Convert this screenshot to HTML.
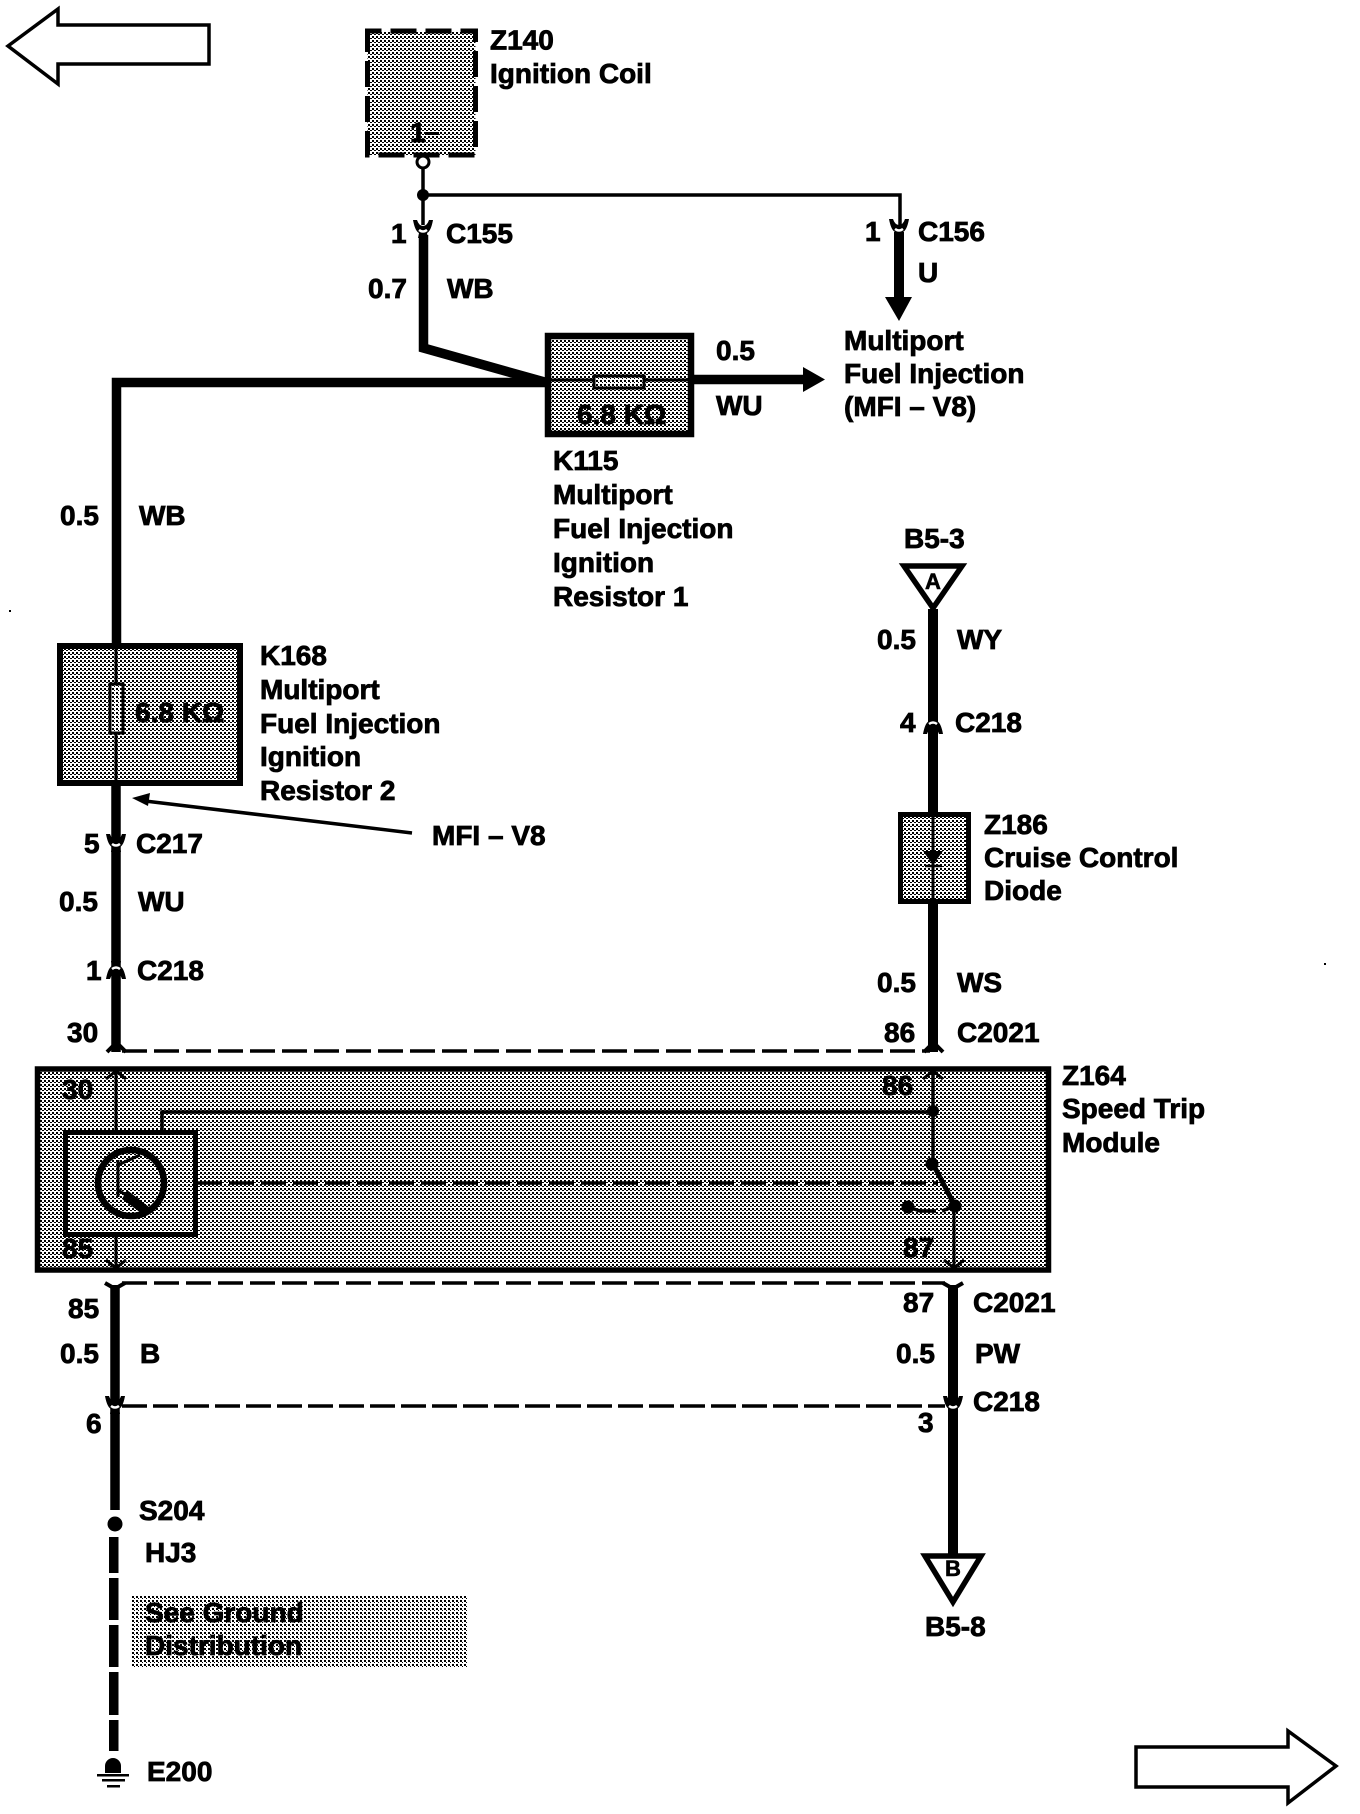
<!DOCTYPE html>
<html>
<head>
<meta charset="utf-8">
<title>Speed Trip Module Wiring Diagram</title>
<style>
html,body{margin:0;padding:0;background:#fff;}
svg{display:block;}
text{font-family:"Liberation Sans",Arial,sans-serif;font-weight:bold;font-size:28px;fill:#000;stroke:#000;stroke-width:.8px;}
text.s{font-size:22px;stroke-width:.6px;}
</style>
</head>
<body>
<svg xmlns="http://www.w3.org/2000/svg" width="1360" height="1814" viewBox="0 0 1360 1814">
<defs>
<pattern id="d" width="4" height="4" patternUnits="userSpaceOnUse">
<rect width="4" height="4" fill="#fff"/>
<rect x="0" y="0" width="2" height="2" fill="#000"/>
<rect x="2" y="2" width="2" height="1" fill="#000"/>
</pattern>
<pattern id="d2" width="4" height="4" patternUnits="userSpaceOnUse">
<rect width="4" height="4" fill="#fff"/>
<rect x="0" y="0" width="2" height="2" fill="#000"/>
<rect x="2" y="2" width="1" height="1" fill="#000"/>
</pattern>
<g id="c">
<path d="M-10,-9 L-6,-9 Q-4,-3 0,-3 Q4,-3 6,-9 L10,-9 Q8,2 4,4 L5,9 L-5,9 L-4,4 Q-8,2 -10,-9Z" fill="#000"/>
<path d="M-4,1 Q0,4 4,1" fill="none" stroke="#fff" stroke-width="2.5"/>
</g>
</defs>
<rect width="1360" height="1814" fill="#fff"/>

<!-- page arrows -->
<polygon points="8,46 58,9 58,25 209,25 209,64 58,64 58,84" fill="#fff" stroke="#000" stroke-width="3.5" stroke-linejoin="miter"/>
<polygon points="1336,1766 1288,1731 1288,1747 1136,1747 1136,1787 1288,1787 1288,1803" fill="#fff" stroke="#000" stroke-width="3.5"/>

<!-- Z140 -->
<rect x="367.5" y="31" width="108" height="124" fill="url(#d)"/>
<rect x="367.5" y="31" width="108" height="124" fill="none" stroke="#000" stroke-width="5" stroke-dasharray="26 9" stroke-dashoffset="12"/>
<text x="410" y="142">1</text><rect x="425" y="132" width="14" height="3" fill="#000"/>
<text x="490" y="49.5">Z140</text>
<text x="490" y="83">Ignition Coil</text>
<line x1="423" y1="167" x2="423" y2="225" stroke="#000" stroke-width="3.5"/>
<circle cx="423" cy="162" r="6" fill="#fff" stroke="#000" stroke-width="3"/>
<circle cx="423" cy="195" r="6" fill="#000"/>
<path d="M423,195 H900 V225" fill="none" stroke="#000" stroke-width="3.5"/>

<!-- C155 wires -->
<path d="M423.5,235 V348 L548,383" fill="none" stroke="#000" stroke-width="9.5" stroke-linejoin="miter"/>
<path d="M548,382.5 H116.5 V650" fill="none" stroke="#000" stroke-width="9.5"/>
<use href="#c" transform="translate(423,229)"/>
<text x="391" y="243">1</text>
<text x="446" y="243">C155</text>
<text x="368" y="298">0.7</text>
<text x="447" y="298">WB</text>

<!-- C156 -->
<line x1="899" y1="232" x2="899" y2="298" stroke="#000" stroke-width="10"/>
<use href="#c" transform="translate(899,228)"/>
<polygon points="885,297 912,297 899,321" fill="#000"/>
<text x="865" y="241">1</text>
<text x="918" y="241">C156</text>
<text x="918" y="282">U</text>

<!-- K115 -->
<rect x="548" y="336" width="143" height="98" fill="url(#d)" stroke="#000" stroke-width="6.5"/>
<line x1="548" y1="380" x2="691" y2="380" stroke="#000" stroke-width="3"/>
<rect x="594" y="376" width="50" height="12" fill="url(#d2)" stroke="#000" stroke-width="3"/>
<text x="577" y="424">6.8 KΩ</text>
<text x="553" y="470">K115</text>
<text x="553" y="504">Multiport</text>
<text x="553" y="538">Fuel Injection</text>
<text x="553" y="572">Ignition</text>
<text x="553" y="606">Resistor 1</text>

<line x1="691" y1="379.5" x2="805" y2="379.5" stroke="#000" stroke-width="9.5"/>
<polygon points="803,367 803,392 825,379.5" fill="#000"/>
<text x="716" y="360">0.5</text>
<text x="716" y="415">WU</text>
<text x="844" y="350">Multiport</text>
<text x="844" y="383">Fuel Injection</text>
<text x="844" y="416">(MFI – V8)</text>

<!-- left wire labels -->
<text x="60" y="525">0.5</text>
<text x="139" y="525">WB</text>

<!-- K168 -->
<rect x="60" y="646" width="180" height="137" fill="url(#d)" stroke="#000" stroke-width="6"/>
<line x1="116" y1="646" x2="116" y2="786" stroke="#000" stroke-width="3"/>
<rect x="110" y="684" width="13" height="49" fill="url(#d2)" stroke="#000" stroke-width="3"/>
<text x="135" y="722">6.8 KΩ</text>
<text x="260" y="665">K168</text>
<text x="260" y="699">Multiport</text>
<text x="260" y="733">Fuel Injection</text>
<text x="260" y="766">Ignition</text>
<text x="260" y="800">Resistor 2</text>

<line x1="116" y1="786" x2="116" y2="1052" stroke="#000" stroke-width="9.5"/>
<use href="#c" transform="translate(116,843)"/>
<use href="#c" transform="translate(116,970) scale(1,-1)"/>
<line x1="412" y1="833" x2="145" y2="801" stroke="#000" stroke-width="3.5"/>
<polygon points="132,798 150,793 148,806" fill="#000"/>
<text x="432" y="845">MFI – V8</text>
<text x="84" y="853">5</text>
<text x="136" y="853">C217</text>
<text x="59" y="911">0.5</text>
<text x="138" y="911">WU</text>
<text x="86" y="980">1</text>
<text x="137" y="980">C218</text>
<text x="67" y="1042">30</text>

<!-- B5-3 -->
<text x="904" y="548">B5-3</text>
<polygon points="904,566 962,566 933,608" fill="#fff" stroke="#000" stroke-width="5.5" stroke-linejoin="miter"/>
<line x1="933" y1="609" x2="933" y2="1052" stroke="#000" stroke-width="10"/>
<text class="s" x="925" y="589">A</text>
<text x="877" y="649">0.5</text>
<text x="957" y="649">WY</text>
<use href="#c" transform="translate(933,725) scale(1,-1)"/>
<text x="900" y="732">4</text>
<text x="955" y="732">C218</text>

<!-- Z186 -->
<rect x="900.5" y="814.5" width="68" height="87" fill="url(#d)" stroke="#000" stroke-width="5"/>
<line x1="933" y1="814" x2="933" y2="902" stroke="#000" stroke-width="3"/>
<polygon points="923,851 943,851 933,865" fill="#000"/>
<line x1="925" y1="866" x2="942" y2="866" stroke="#000" stroke-width="2.5"/>
<text x="984" y="834">Z186</text>
<text x="984" y="867">Cruise Control</text>
<text x="984" y="900">Diode</text>
<text x="877" y="992">0.5</text>
<text x="957" y="992">WS</text>
<text x="884" y="1042">86</text>
<text x="957" y="1042">C2021</text>

<!-- C2021 upper dashes -->
<line x1="122" y1="1051" x2="930" y2="1051" stroke="#000" stroke-width="3.5" stroke-dasharray="25 7"/>
<path d="M107,1052 L113,1046 H120 L126,1052" fill="none" stroke="#000" stroke-width="4"/>
<path d="M924,1052 L930,1046 H937 L943,1052" fill="none" stroke="#000" stroke-width="4"/>

<!-- Z164 -->
<rect x="37.5" y="1069" width="1011" height="201" fill="url(#d)" stroke="#000" stroke-width="5.5"/>
<line x1="116" y1="1070" x2="116" y2="1132" stroke="#000" stroke-width="3"/>
<path d="M106,1079 L116,1071 L126,1079" fill="none" stroke="#000" stroke-width="3"/>
<line x1="116" y1="1236" x2="116" y2="1268" stroke="#000" stroke-width="3"/>
<path d="M106,1260 L116,1268 L126,1260" fill="none" stroke="#000" stroke-width="3"/>
<text x="62" y="1099">30</text>
<text x="62" y="1258">85</text>
<rect x="65.5" y="1132.5" width="130" height="102" fill="url(#d)" stroke="#000" stroke-width="5"/>
<circle cx="131" cy="1183" r="33" fill="none" stroke="#000" stroke-width="6.5"/>
<line x1="118" y1="1160" x2="118" y2="1197" stroke="#000" stroke-width="3"/>
<line x1="118" y1="1165" x2="140" y2="1155" stroke="#000" stroke-width="3"/>
<line x1="118" y1="1190" x2="147" y2="1208" stroke="#000" stroke-width="3"/>
<polygon points="127,1190 149,1207 141,1213 122,1199" fill="#000"/>
<path d="M162,1130 V1112 H933" fill="none" stroke="#000" stroke-width="3.5"/>
<line x1="197" y1="1183" x2="938" y2="1183" stroke="#000" stroke-width="3.5" stroke-dasharray="25 7"/>
<line x1="933" y1="1070" x2="933" y2="1164" stroke="#000" stroke-width="3.5"/>
<path d="M923,1079 L933,1071 L943,1079" fill="none" stroke="#000" stroke-width="3"/>
<circle cx="933" cy="1111" r="6" fill="#000"/>
<circle cx="932" cy="1164" r="6.5" fill="#000"/>
<line x1="933" y1="1164" x2="955" y2="1206" stroke="#000" stroke-width="5"/>
<circle cx="955" cy="1206" r="6.5" fill="#000"/>
<circle cx="908" cy="1207" r="6.5" fill="#000"/>
<path d="M908,1207 L920,1211 H936 M942,1211 L955,1206" fill="none" stroke="#000" stroke-width="3.5"/>
<line x1="954" y1="1206" x2="954" y2="1268" stroke="#000" stroke-width="3"/>
<path d="M944,1260 L954,1268 L964,1260" fill="none" stroke="#000" stroke-width="3"/>
<text x="882" y="1095">86</text>
<text x="903" y="1257">87</text>
<text x="1062" y="1085">Z164</text>
<text x="1062" y="1118">Speed Trip</text>
<text x="1062" y="1152">Module</text>

<!-- C2021 lower dashes -->
<line x1="122" y1="1283" x2="945" y2="1283" stroke="#000" stroke-width="3.5" stroke-dasharray="25 7"/>
<line x1="115" y1="1285" x2="115" y2="1510" stroke="#000" stroke-width="9.5"/>
<path d="M105,1283 L112,1287 H118 L125,1283" fill="none" stroke="#000" stroke-width="4"/>
<line x1="953" y1="1285" x2="953" y2="1556" stroke="#000" stroke-width="10"/>
<path d="M943,1283 L950,1287 H956 L963,1283" fill="none" stroke="#000" stroke-width="4"/>
<text x="68" y="1318">85</text>
<text x="903" y="1312">87</text>
<text x="973" y="1312">C2021</text>
<text x="60" y="1363">0.5</text>
<text x="140" y="1363">B</text>
<text x="896" y="1363">0.5</text>
<text x="975" y="1363">PW</text>

<!-- C218 lower -->
<line x1="122" y1="1406" x2="945" y2="1406" stroke="#000" stroke-width="3.5" stroke-dasharray="25 6"/>
<use href="#c" transform="translate(115,1405)"/>
<use href="#c" transform="translate(953,1405)"/>
<text x="86" y="1433">6</text>
<text x="918" y="1432">3</text>
<text x="973" y="1411">C218</text>

<!-- B5-8 -->
<polygon points="925,1556 981,1556 953,1602" fill="#fff" stroke="#000" stroke-width="5.5"/>
<text class="s" x="945" y="1576">B</text>
<text x="925" y="1636">B5-8</text>

<!-- S204 / ground -->
<circle cx="115" cy="1524" r="7.5" fill="#000"/>
<g fill="#000">
<rect x="109" y="1537" width="9.5" height="36"/>
<rect x="109" y="1578" width="9.5" height="42"/>
<rect x="109" y="1625" width="9.5" height="42"/>
<rect x="109" y="1672" width="9.5" height="43"/>
<rect x="109" y="1720" width="9.5" height="31"/>
<path d="M105,1773 V1766 A8,8 0 0 1 121,1766 V1773Z"/>
<rect x="97" y="1774" width="32" height="2.5"/>
<rect x="102" y="1779" width="23" height="2.5"/>
<rect x="107" y="1785" width="13" height="2.5"/>
</g>
<text x="139" y="1520">S204</text>
<text x="145" y="1562">HJ3</text>
<rect x="131" y="1595" width="336" height="72" fill="url(#d2)"/>
<text x="145" y="1622">See Ground</text>
<text x="145" y="1655">Distribution</text>
<text x="147" y="1781">E200</text>

<!-- scan specks -->
<rect x="9" y="610" width="2" height="2" fill="#000"/>
<rect x="1324" y="963" width="2" height="2" fill="#000"/>
</svg>
</body>
</html>
